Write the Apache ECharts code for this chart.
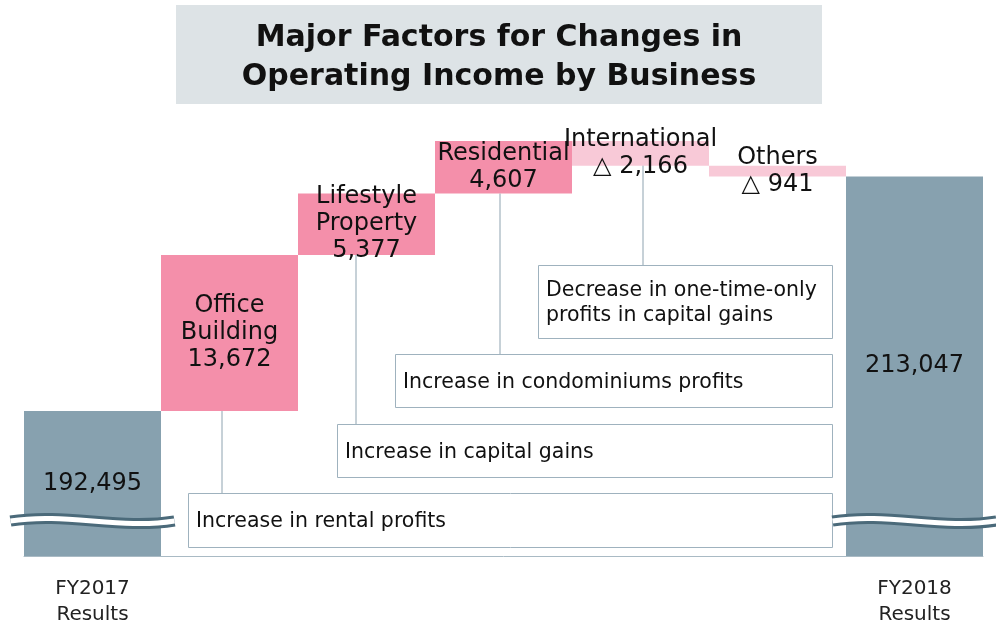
<!DOCTYPE html>
<html>
<head>
<meta charset="utf-8">
<script src="https://cdn.jsdelivr.net/npm/echarts@6/dist/echarts.min.js"></script>
<style>
  html, body { margin: 0; padding: 0; background: #fff; }
  #chart { width: 996px; height: 623px; }
</style>
</head>
<body>
<div id="chart"></div>
<script>
// data
const categories = ['FY2017\nResults', 'Office\nBuilding', 'Lifestyle\nProperty', 'Residential', 'International', 'Others', 'FY2018\nResults'];
const kinds = ['total', 'up', 'up', 'up', 'down', 'down', 'total'];
const values = [192495, 13672, 5377, 4607, -2166, -941, 213047];
const notes = [
  'Increase in rental profits',
  'Increase in capital gains',
  'Increase in condominiums profits',
  'Decrease in one-time-only\nprofits in capital gains'
];

const AXIS_MIN = 179800;
const AXIS_MAX = 220000;
const FONT = '"DejaVu Sans", Verdana, sans-serif';
const colors = { total: '#87A1AF', up: '#F48FAA', down: '#F8C9D7' };

// waterfall: transparent base + visible bar
let running = 0;
let baseData = [], barData = [];
categories.forEach((c, i) => {
  let v = values[i];
  if (kinds[i] === 'total') {
    baseData.push(AXIS_MIN);
    barData.push(v - AXIS_MIN);
    running = v;
  } else if (v > 0) {
    baseData.push(running);
    barData.push(v);
    running += v;
  } else {
    running += v;
    baseData.push(running);
    barData.push(-v);
  }
});

function fmt(n) {
  return Math.abs(n).toString().replace(/\B(?=(\d{3})+(?!\d))/g, ',');
}

let myChart = echarts.init(document.getElementById('chart'));
let option = {
  animation: false,
  grid: { left: 24, right: 13, top: 97, bottom: 67, outerBoundsMode: 'none' },
  xAxis: {
    type: 'category',
    data: categories,
    axisLine: { show: true, lineStyle: { color: '#A9BAC4', width: 1 } },
    axisTick: { show: false },
    axisLabel: {
      margin: 20,
      fontSize: 20,
      lineHeight: 26,
      color: '#222',
      fontFamily: FONT,
      interval: 0,
      formatter: (v, i) => kinds[i] === 'total' ? v : ''
    }
  },
  yAxis: {
    type: 'value',
    min: AXIS_MIN,
    max: AXIS_MAX,
    show: false,
    splitLine: { show: false }
  },
  series: [
    {
      type: 'bar',
      stack: 'w',
      data: baseData,
      itemStyle: { color: 'transparent' },
      barCategoryGap: '0%',
      silent: true
    },
    {
      type: 'bar',
      stack: 'w',
      data: barData.map((v, i) => ({ value: v, itemStyle: { color: colors[kinds[i]] } })),
      barCategoryGap: '0%',
      label: {
        show: true,
        position: 'inside',
        fontSize: 24,
        lineHeight: 27,
        color: '#111',
        fontFamily: FONT,
        formatter: p => {
          let i = p.dataIndex;
          if (kinds[i] === 'total') return fmt(values[i]);
          return categories[i] + '\n' + (values[i] < 0 ? '△ ' : '') + fmt(values[i]);
        }
      }
    }
  ]
};
myChart.setOption(option);

// annotations, title and axis break marks
function yOf(v) { return myChart.convertToPixel({ yAxisIndex: 0 }, v); }
function xOf(i) { return myChart.convertToPixel({ xAxisIndex: 0 }, i); }

let graphics = [];
graphics.push({
  type: 'rect', shape: { x: 176, y: 5, width: 646, height: 99 },
  style: { fill: '#DDE3E6' }, z: 1
});
graphics.push({
  type: 'text', x: 499, y: 58, z: 2,
  style: {
    text: 'Major Factors for Changes in\nOperating Income by Business',
    font: 'bold 30px ' + FONT, fill: '#111', align: 'center', verticalAlign: 'middle', lineHeight: 39
  }
});

// boxes: [barIndex, connectorX, x, y, w, h]
let boxes = [
  [1, 222, 188, 493, 644, 54],
  [2, 356, 337, 424, 495, 53],
  [3, 500, 395, 354, 437, 53],
  [4, 643, 538, 265, 294, 73]
];
boxes.forEach((b, k) => {
  let top = yOf(baseData[b[0]]);
  graphics.push({
    type: 'line', z: 5,
    shape: { x1: b[1], y1: top, x2: b[1], y2: b[3] },
    style: { stroke: '#8EA3B0', lineWidth: 1 }
  });
  graphics.push({
    type: 'rect', z: 5,
    shape: { x: b[2] + 0.5, y: b[3] + 0.5, width: b[4], height: b[5] },
    style: { fill: '#fff', stroke: '#9FB2BE', lineWidth: 1 }
  });
  graphics.push({
    type: 'text', z: 6, x: b[2] + 8, y: b[3] + b[5] / 2 + 2,
    style: { text: notes[k], font: '20.5px ' + FONT, fill: '#111', verticalAlign: 'middle', lineHeight: 25 }
  });
});

// wavy break on the total bars
[0, 6].forEach(i => {
  let cx = xOf(i);
  let x0 = cx - 82, x1 = cx + 82, yc = 521;
  let shape = { x1: x0, y1: yc, cpx1: x0 + 55, cpy1: yc - 9, cpx2: x1 - 55, cpy2: yc + 9, x2: x1, y2: yc };
  graphics.push({ type: 'bezierCurve', z: 7, shape: shape, style: { stroke: '#4B6A7A', lineWidth: 11, fill: null } });
  graphics.push({ type: 'bezierCurve', z: 8, shape: shape, style: { stroke: '#fff', lineWidth: 5, fill: null } });
});

myChart.setOption({ graphic: graphics });
</script>
</body>
</html>
